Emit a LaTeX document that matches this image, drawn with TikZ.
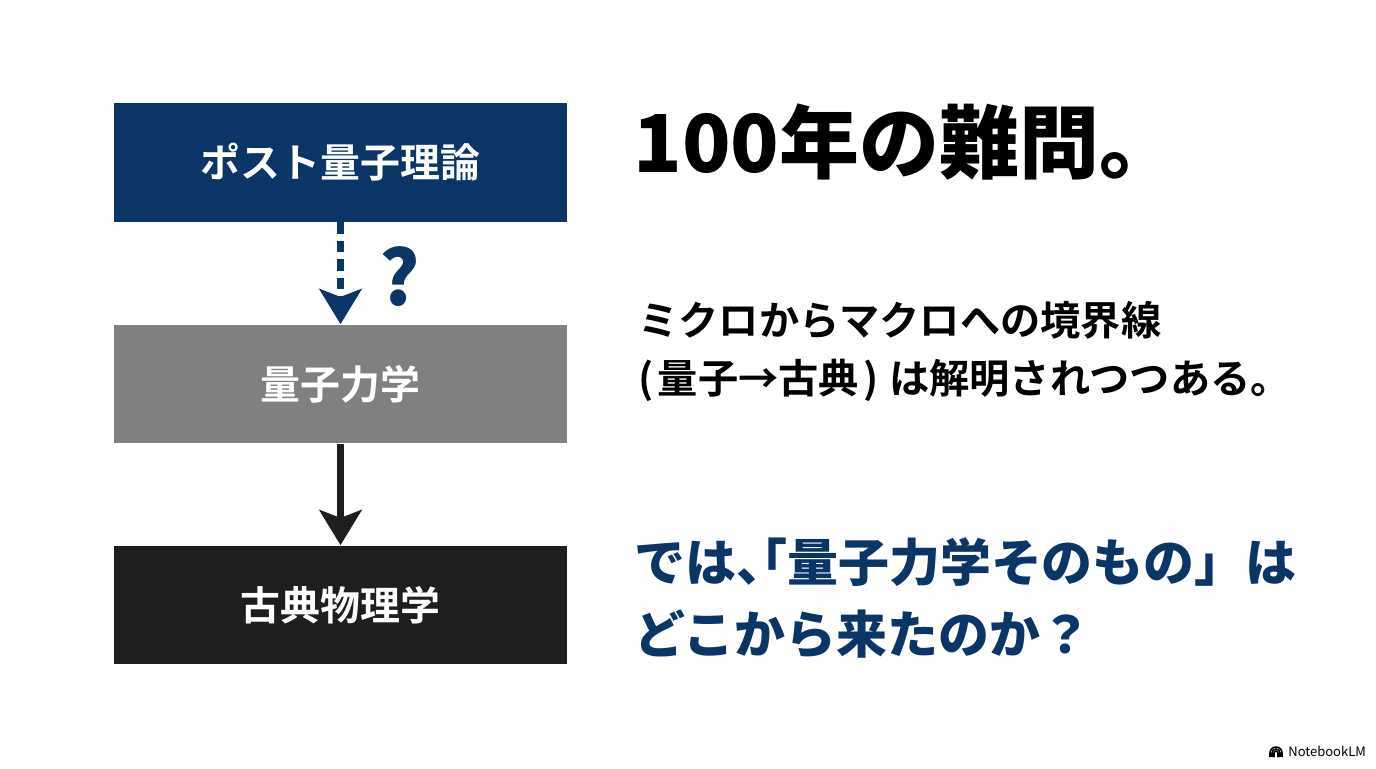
\documentclass[tikz,border=0pt]{standalone}
\usepackage{fontspec}
\usepackage{xcolor}
\usetikzlibrary{arrows.meta}
\setmainfont{Noto Sans CJK JP}[BoldFont=* Bold]
\newfontfamily\heavyfont{Noto Sans CJK JP Black}
\newfontfamily\halffont{Noto Sans CJK JP Black}[RawFeature=+halt]
\definecolor{navy}{HTML}{0B3566}
\definecolor{midgray}{HTML}{808080}
\definecolor{nearblack}{HTML}{1E1E1E}

\begin{document}
\begin{tikzpicture}[
  x=0.02cm, y=-0.02cm,
  level/.style={draw=none,minimum width=9.06cm,minimum height=2.38cm,inner sep=0pt,text=white,font=\bfseries\fontsize{22.7}{26}\selectfont},
  down/.style={line width=4.5pt,-{Stealth[length=20pt,width=24pt,inset=4.5pt]}},
  line/.style={anchor=base west,inner sep=0pt}
]
  \fill[white] (0,0) rectangle (1376,768);
  % theory levels
  \node[level,fill=navy] (post) at (340.5,162.5) {ポスト量子理論};
  \node[level,fill=midgray] (qm) at (340.5,384) {量子力学};
  \node[level,fill=nearblack] (cl) at (340.5,605) {古典物理学};
  \draw[down,navy,dash pattern=on 6.5pt off 4pt] (post) -- (qm);
  \draw[down,nearblack] (qm) -- (cl);
  \node[text=navy,font=\heavyfont\fontsize{43}{45}\selectfont,inner sep=0pt] (qmark) at (400,277) {?};
  % text on the right
  \node[line,font=\heavyfont\fontsize{45.5}{50}\selectfont] (title) at (633,172) {100年の難問。};
  \node[line,font=\bfseries\fontsize{22.9}{26}\selectfont] (mid1) at (638,335) {ミクロからマクロへの境界線};
  \node[line,font=\bfseries\fontsize{22.9}{26}\selectfont] (mid2) at (638,393) {(\hspace{2.5pt}量子→古典\hspace{2.5pt})\hspace{6pt}は解明されつつある。};
  \node[line,text=navy,font=\heavyfont\fontsize{29}{32}\selectfont] (ask1) at (634,581) {では{\halffont 、「}量子力学そのもの」は};
  \node[line,text=navy,font=\heavyfont\fontsize{29}{32}\selectfont] (ask2) at (634,653) {どこから来たのか？};
  % logo
  \node[line,font=\fontsize{7.4}{9}\selectfont] (logo) at (1288,756) {NotebookLM};
  \foreach \r in {2,4,6}
    \draw[line width=0.9pt] (1276-\r,757) -- (1276-\r,753) arc[start angle=180,end angle=360,radius=\r] -- (1276+\r,757);
\end{tikzpicture}
\end{document}
